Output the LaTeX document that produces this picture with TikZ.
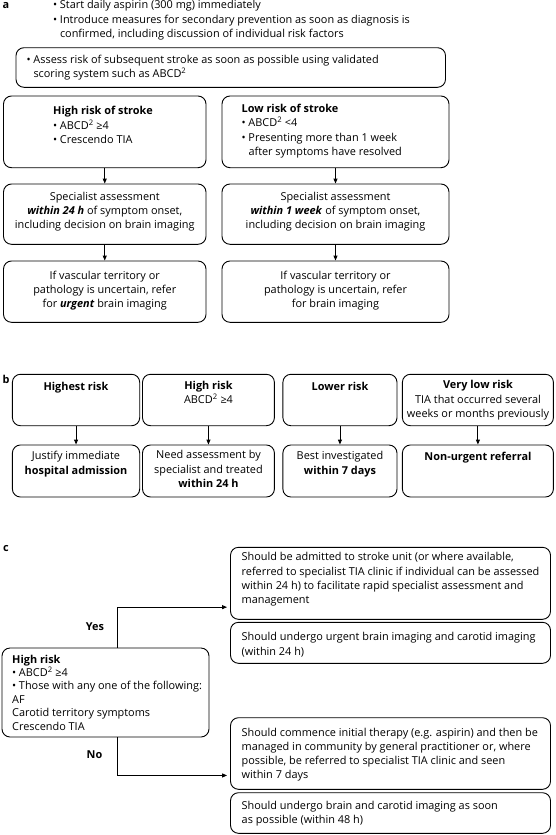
\documentclass[tikz,border=0pt]{standalone}
\usepackage{fontspec}
\setmainfont{Open Sans}
\usetikzlibrary{arrows.meta,fit}
\newcommand\bl{\makebox[6.8pt][l]{•}}
\newcommand\ind{\hspace*{6.8pt}}
\newcommand\stt{\rule[-3pt]{0pt}{12pt}}
\newcommand\abcd{ABCD\textsuperscript{2}}
\newcommand\bi[1]{\textbf{\textit{#1}}}
\begin{document}
\begin{tikzpicture}[x=1pt,y=-1pt,
  box/.style={draw, rounded corners=8pt, inner sep=0pt, line width=0.9pt},
  txt/.style={inner sep=0pt, align=left, anchor=west, font=\fontsize{10.9}{14.2}\selectfont},
  ctxt/.style={inner sep=0pt, align=center, anchor=center, font=\fontsize{10.9}{14.2}\selectfont},
  lbl/.style={inner sep=0pt, font=\fontsize{10.9}{12}\selectfont\bfseries},
  arr/.style={-{Triangle[length=5pt,width=4pt]}, line width=0.9pt}]
\useasboundingbox (0,0) rectangle (555,835);

% ---------- a ----------
\node[lbl] (la) at (6,6) {a};
\node[txt] (ttop) at (53,20) {\stt\bl Start daily aspirin (300 mg) immediately\\\bl Introduce measures for secondary prevention as soon as diagnosis is\\\ind confirmed, including discussion of individual risk factors\stt};

\node[box, fit={(16,47.7) (445.5,87.3)}] (assess) {};
\node[txt] (tassess) at (26.5,67.5) {\stt\bl Assess risk of subsequent stroke as soon as possible using validated\\\ind scoring system such as \abcd\stt};

\node[box, fit={(3.5,96) (206,167.7)}] (aH) {};
\node[box, fit={(222,96) (449,167.7)}] (aL) {};
\node[txt] (taH) at (53,126) {\stt\textbf{High risk of stroke}\\\bl \abcd{} ≥4\\\bl Crescendo TIA\stt};
\node[txt] (taL) at (241.5,131) {\stt\textbf{Low risk of stroke}\\\bl \abcd{} <4\\\bl Presenting more than 1 week\\\ind after symptoms have resolved\stt};

\node[box, fit={(3.5,184) (206,244.3)}] (sH) {};
\node[box, fit={(222,184) (449,244.3)}] (sL) {};
\node[ctxt] (tsH) at (104.75,211.3) {\stt Specialist assessment\\\bi{within 24 h} of symptom onset,\\including decision on brain imaging\stt};
\node[ctxt] (tsL) at (335.5,211.3) {\stt Specialist assessment\\\bi{within 1 week} of symptom onset,\\including decision on brain imaging\stt};

\node[box, fit={(3.5,261) (206,322.3)}] (iH) {};
\node[box, fit={(222,261) (449,322.3)}] (iL) {};
\node[ctxt] (tiH) at (104.75,290.5) {\stt If vascular territory or\\pathology is uncertain, refer\\for \bi{urgent} brain imaging\stt};
\node[ctxt] (tiL) at (335.5,290.5) {\stt If vascular territory or\\pathology is uncertain, refer\\for brain imaging\stt};

\draw[arr] (aH.south) -- (sH.north);
\draw[arr] (aL.south) -- (sL.north);
\draw[arr] (sH.south) -- (iH.north);
\draw[arr] (sL.south) -- (iL.north);

% ---------- b ----------
\node[lbl] (lb) at (6,379) {b};
\node[box, fit={(12.4,374.3) (139.7,425.7)}] (b1) {};
\node[box, fit={(142.5,374.3) (274.4,425.7)}] (b2) {};
\node[box, fit={(282.9,374.3) (397,425.7)}] (b3) {};
\node[box, fit={(402.4,374.3) (553.4,425.7)}] (b4) {};
\node[box, fit={(12.4,445) (139.7,497)}] (b5) {};
\node[box, fit={(142.5,445) (274.4,497)}] (b6) {};
\node[box, fit={(282.9,445) (397,497)}] (b7) {};
\node[box, fit={(402.4,445) (553.4,497)}] (b8) {};

\node[ctxt] (tb1) at (76,387) {\stt\textbf{Highest risk}\stt};
\node[ctxt] (tb2) at (208.5,393.5) {\stt\textbf{High risk}\\\abcd{} ≥4\stt};
\node[ctxt] (tb3) at (340,387) {\stt\textbf{Lower risk}\stt};
\node[ctxt] (tb4) at (478,400) {\stt\textbf{Very low risk}\\TIA that occurred several\\weeks or months previously\stt};
\node[ctxt] (tb5) at (76,464) {\stt Justify immediate\\\textbf{hospital admission}\stt};
\node[ctxt] (tb6) at (208.5,470) {\stt Need assessment by\\specialist and treated\\\textbf{within 24 h}\stt};
\node[ctxt] (tb7) at (340,464) {\stt Best investigated\\\textbf{within 7 days}\stt};
\node[ctxt] (tb8) at (478,457) {\stt\textbf{Non-urgent referral}\stt};

\draw[arr] (b1.south) -- (b5.north);
\draw[arr] (b2.south) -- (b6.north);
\draw[arr] (b3.south) -- (b7.north);
\draw[arr] (b4.south) -- (b8.north);

% ---------- c ----------
\node[lbl] (lc) at (6,549) {c};
\node[box, fit={(230.5,547.3) (550.5,619.3)}] (c1) {};
\node[box, fit={(230.5,622.3) (550.5,663.3)}] (c2) {};
\node[box, fit={(2,648) (209,737)}] (hr) {};
\node[box, fit={(230.5,717.7) (550.5,789.3)}] (c3) {};
\node[box, fit={(230.5,792.7) (550.5,833.3)}] (c4) {};

\node[txt] (tc1) at (241.5,579.2) {\stt Should be admitted to stroke unit (or where available,\\referred to specialist TIA clinic if individual can be assessed\\within 24 h) to facilitate rapid specialist assessment and\\management\stt};
\node[txt] (tc2) at (241.5,645) {\stt Should undergo urgent brain imaging and carotid imaging\\(within 24 h)\stt};
\node[txt, font=\fontsize{10.9}{13.4}\selectfont] (thr) at (12,693.5) {\stt\textbf{High risk}\\\bl \abcd{} ≥4\\\bl Those with any one of the following:\\AF\\Carotid territory symptoms\\Crescendo TIA\stt};
\node[txt] (tc3) at (241.5,754.5) {\stt Should commence initial therapy (e.g. aspirin) and then be\\managed in community by general practitioner or, where\\possible, be referred to specialist TIA clinic and seen\\within 7 days\stt};
\node[txt] (tc4) at (241.5,813.4) {\stt Should undergo brain and carotid imaging as soon\\as possible (within 48 h)\stt};

\node[lbl] (yes) at (95,627) {Yes};
\node[lbl] (no) at (94.5,755) {No};

\coordinate (yx) at (117.5,0);
\draw[arr, shorten >=3pt] (hr.north -| yx) |- ([yshift=12.6pt]c1.south west);
\draw[arr, shorten >=3pt] (hr.south -| yx) |- ([yshift=14.3pt]c3.south west);
\end{tikzpicture}
\end{document}
